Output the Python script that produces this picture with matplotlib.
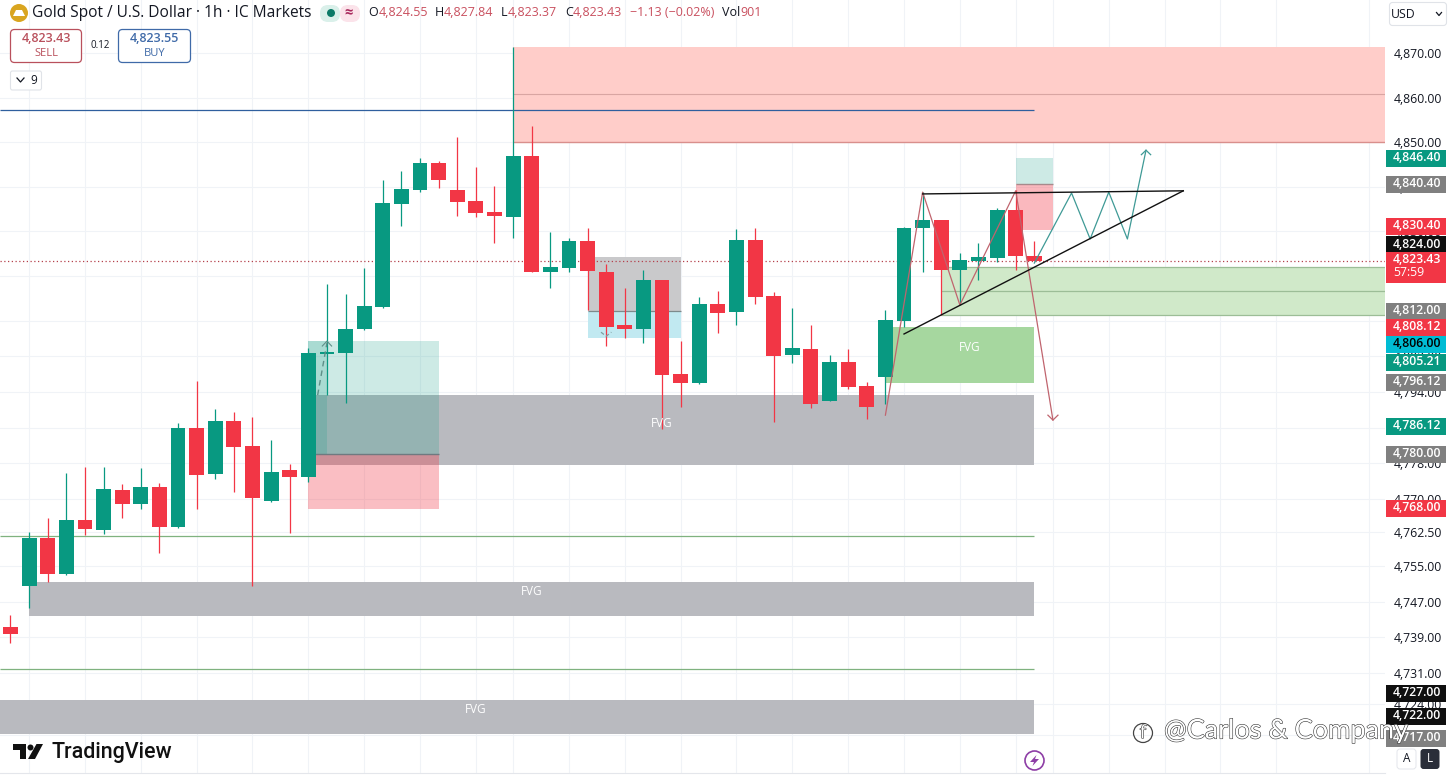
import numpy as np
import matplotlib
matplotlib.use('Agg')
import matplotlib.pyplot as plt
import matplotlib.patheffects as pe
from matplotlib.patches import Rectangle, FancyBboxPatch, Circle, Polygon

plt.rcParams['font.family'] = ['Open Sans', 'DejaVu Sans']

# candles, one hour each
opens = [4741.2, 4750.5, 4761.3, 4753.2, 4765.3, 4763.1, 4772.0, 4768.9, 4772.7, 4763.7,
         4785.9, 4775.6, 4787.5, 4781.9, 4769.6, 4776.5, 4774.9, 4802.5, 4802.7, 4808.1,
         4813.0, 4836.1, 4839.3, 4845.3, 4839.3, 4836.8, 4834.4, 4833.3, 4846.9, 4820.9,
         4821.8, 4827.9, 4820.9, 4809.0, 4808.1, 4819.1, 4798.0, 4796.0, 4813.7, 4811.9,
         4828.1, 4815.5, 4802.3, 4803.6, 4792.0, 4800.7, 4795.3, 4797.4, 4809.9, 4830.8,
         4832.6, 4821.4, 4823.4, 4824.0, 4834.8, 4824.55]
highs = [4744.0, 4762.5, 4765.8, 4775.9, 4777.2, 4777.2, 4773.4, 4777.0, 4773.5, 4787.0,
         4796.5, 4790.2, 4789.6, 4788.5, 4783.2, 4777.9, 4803.9, 4818.2, 4816.0, 4821.8,
         4841.5, 4843.5, 4846.5, 4845.8, 4851.2, 4844.4, 4840.2, 4871.3, 4853.6, 4829.9,
         4828.5, 4830.8, 4822.7, 4817.3, 4821.4, 4819.1, 4805.4, 4815.3, 4816.6, 4830.5,
         4830.8, 4816.4, 4812.8, 4809.0, 4802.3, 4803.6, 4796.2, 4812.4, 4831.0, 4838.8,
         4832.6, 4825.2, 4827.4, 4835.3, 4839.3, 4827.84]
lows = [4737.8, 4745.6, 4751.3, 4753.0, 4761.9, 4762.2, 4765.7, 4767.8, 4757.9, 4763.5,
        4767.8, 4774.5, 4771.6, 4750.5, 4769.3, 4762.4, 4773.8, 4793.3, 4791.5, 4807.9,
        4812.8, 4831.2, 4838.8, 4839.7, 4833.5, 4833.2, 4827.4, 4828.6, 4820.9, 4817.4,
        4820.9, 4812.4, 4804.3, 4806.1, 4805.0, 4785.7, 4790.6, 4795.8, 4807.2, 4809.0,
        4813.7, 4787.3, 4800.5, 4790.4, 4792.0, 4794.7, 4787.9, 4791.3, 4808.6, 4820.9,
        4811.3, 4813.5, 4819.1, 4823.1, 4821.4, 4823.37]
closes = [4739.7, 4761.3, 4753.2, 4765.3, 4763.3, 4772.2, 4768.9, 4772.7, 4763.7, 4785.9,
          4775.4, 4787.5, 4781.7, 4770.2, 4776.1, 4774.9, 4802.7, 4803.0, 4808.1, 4813.3,
          4836.4, 4839.5, 4845.3, 4841.5, 4836.6, 4834.1, 4833.5, 4846.9, 4821.0, 4822.0,
          4827.9, 4821.1, 4808.6, 4808.1, 4819.1, 4797.8, 4796.0, 4813.7, 4811.7, 4828.1,
          4815.3, 4802.1, 4803.9, 4791.3, 4800.7, 4795.1, 4790.6, 4810.1, 4830.8, 4832.6,
          4821.4, 4823.6, 4824.3, 4834.8, 4824.5, 4823.43]

last_price = 4823.43

# drawn zones: bar start, bar end, low, high
red_zone = [27, 74, 4850.0, 4871.3]
red_zone_mid = 4860.8
green_zone = [50, 74, 4811.3, 4822.0]
green_zone_mid = 4816.6
green_fvg = [47, 55, 4796.0, 4808.6]
gray_fvgs_start = [16, 1, -1]
gray_fvgs_end = [55, 55, 55]
gray_fvgs_low = [4777.6, 4743.8, 4717.3]
gray_fvgs_high = [4793.3, 4751.4, 4724.9]
gray_fvgs_label_bar = [35.0, 28.0, 25.0]
gray_fvgs_label_price = [4786.9, 4749.2, 4722.9]
long_box = [16, 23, 4767.8, 4780.1, 4805.4]
long_box_inner = [16, 17]
short_box = [31, 36, 4806.1, 4812.2, 4824.3]
small_box = [54, 56, 4830.3, 4840.6, 4846.5]

# horizontal levels
blue_level = 4857.2
green_levels = [4761.6, 4731.8]
levels_end = 55

# hand drawn lines
top_line_bars = [49, 63]
top_line_prices = [4838.4, 4839.1]
rise_line_bars = [48, 63]
rise_line_prices = [4807.0, 4839.1]
red_path_bars = [47, 49, 51, 54, 56]
red_path_prices = [4788.8, 4838.8, 4813.5, 4839.1, 4787.7]
teal_path_bars = [55, 57, 58, 59, 60, 61]
teal_path_prices = [4822.9, 4838.6, 4828.3, 4838.8, 4828.3, 4848.2]

# axes
grid_bars = [1, 4, 7, 10, 13, 16, 19, 22, 25, 27, 30, 33, 36, 39, 42, 45, 48, 51, 54, 56, 59, 62, 65, 68, 73]
price_ticks = [4870, 4860, 4850, 4840, 4830, 4820, 4810, 4802, 4794, 4786, 4778, 4770,
               4762.5, 4755, 4747, 4739, 4731, 4724, 4717]

# price tags on the axis
tag_labels = ['4,846.40', '4,840.40', '4,830.40', '4,824.00', '4,823.43', '4,812.00', '4,808.12', '4,806.00',
              '4,805.21', '4,796.12', '4,786.12', '4,780.00', '4,768.00', '4,727.00', '4,722.00', '4,717.00']
tag_colors = ['#089981', '#808080', '#f23645', '#0f0f0f', '#f23645', '#808080', '#f23645', '#00bcd4',
              '#089981', '#808080', '#089981', '#808080', '#f23645', '#0f0f0f', '#0f0f0f', '#808080']
tag_px = [158, 184, 226, 244.5, 260, 311, 327, 344, 362, 382, 426, 454, 508, 693, 716, 738]

GREEN = '#089981'
RED = '#f23645'
W, H = 1448, 777
PANE_W, PANE_H = 1385, 773
BAR0, BAR_STEP = 10.5, 18.615
PX_PRICE = 0.2242
PRICE_TOP = 4881.88


def fx(px):
    return px / W


def fy(py):
    return 1 - py / H


def box(fig, x, y, w, h, fc, ec='none', lw=1.0, r=0.0, z=5):
    """Rounded box in reference pixels, on the figure."""
    style = 'round,pad=0,rounding_size=%.1f' % r if r else 'square,pad=0'
    p = FancyBboxPatch((x, H - y - h), w, h, boxstyle=style, fc=fc, ec=ec, lw=lw,
                       transform=pixel, zorder=z, clip_on=False)
    fig.add_artist(p)


def zone(ax, start, end, low, high, color, alpha=1.0, z=1):
    ax.add_patch(Rectangle((start, low), end - start, high - low, fc=color, alpha=alpha, ec='none', zorder=z))


fig = plt.figure(figsize=(W / 100, H / 100), dpi=100, facecolor='white')
pixel = matplotlib.transforms.Affine2D().scale(fig.dpi * fig.get_figwidth() / W, fig.dpi * fig.get_figheight() / H)
ax = fig.add_axes([0, 1 - PANE_H / H, PANE_W / W, PANE_H / H])
ax.set_xlim(-BAR0 / BAR_STEP, (PANE_W - BAR0) / BAR_STEP)
ax.set_ylim(PRICE_TOP - PANE_H * PX_PRICE, PRICE_TOP)

# grid and axis
ax.set_axisbelow(True)
ax.set_xticks(grid_bars)
ax.set_yticks(price_ticks)
ax.grid(True, color='#f0f3f7', lw=0.8)
ax.yaxis.tick_right()
ax.set_yticklabels(['{:,.2f}'.format(p) for p in price_ticks])
ax.tick_params(axis='y', length=0, pad=6, labelsize=8.8, labelcolor='#131722')
ax.tick_params(axis='x', length=0, labelbottom=False)
for name in ['left', 'top', 'right']:
    ax.spines[name].set_visible(False)
ax.spines['bottom'].set_color('#e4e6eb')

# zones
zone(ax, *red_zone[:4], '#ffcdc9')
ax.hlines([red_zone[2]], red_zone[0], red_zone[1], color='#d98f8c', lw=1, zorder=1.2)
ax.hlines([red_zone_mid], red_zone[0], red_zone[1], color='#d9a5a2', lw=0.8, zorder=1.2)
zone(ax, *green_zone[:4], '#d0e9c9')
ax.hlines(green_zone[2:] + [green_zone_mid], green_zone[0], green_zone[1], color='#9cbd97', lw=0.9, zorder=1.2)
zone(ax, *green_fvg[:4], '#a6d79f')
ax.text((green_fvg[0] + green_fvg[1]) / 2 + 0.55, 4804.0, 'FVG', color='white', fontsize=8.5, ha='center', va='center', zorder=6)
for i in range(len(gray_fvgs_start)):
    zone(ax, gray_fvgs_start[i], gray_fvgs_end[i], gray_fvgs_low[i], gray_fvgs_high[i], '#b9babf')
    ax.text(gray_fvgs_label_bar[i], gray_fvgs_label_price[i], 'FVG', color='white', fontsize=8.5,
            ha='center', va='center', zorder=6)

# long position box
zone(ax, long_box[0], long_box[1], long_box[3], long_box[4], GREEN, alpha=0.2, z=1.5)
zone(ax, long_box[0], long_box[1], long_box[2], long_box[3], RED, alpha=0.32, z=1.5)
zone(ax, long_box_inner[0], long_box_inner[1], long_box[3], long_box[4], GREEN, alpha=0.18, z=1.6)
ax.hlines([long_box[3]], long_box[0], long_box[1], color='#6f7a80', lw=1, zorder=1.7)
ax.plot([16.5, 17], [4793.3, 4805.0], color='#5f8f88', lw=1, ls=(0, (4, 3)), zorder=4)
ax.plot([16.75, 17, 17.25], [4804.3, 4805.4, 4804.3], color='#5f8f88', lw=0.8, zorder=4)

# short position box
zone(ax, short_box[0], short_box[1], short_box[3], short_box[4], '#c9c9cb', z=1.5)
zone(ax, short_box[0], short_box[1], short_box[2], short_box[3], '#c1e9f1', z=1.5)
ax.hlines([short_box[3]], short_box[0], short_box[1], color='#7d8a8c', lw=0.9, zorder=1.7)
ax.plot([31.72, 32, 32.28], [4807.4, 4806.5, 4807.4], color='#7f9ea0', lw=0.9, ls=(0, (3, 2)), zorder=4)

# small position box
zone(ax, small_box[0], small_box[1], small_box[3], small_box[4], GREEN, alpha=0.2, z=1.5)
zone(ax, small_box[0], small_box[1], small_box[2], small_box[3], RED, alpha=0.35, z=1.5)
ax.hlines([small_box[3]], small_box[0], small_box[1], color='#a78a8c', lw=1, zorder=1.7)

# levels
ax.hlines([blue_level], ax.get_xlim()[0], levels_end, color='#2f5f9e', lw=0.9, zorder=2)
ax.hlines(green_levels, ax.get_xlim()[0], levels_end, color='#7fb27f', lw=0.9, zorder=2)
ax.axhline(last_price, color='#b5414c', lw=0.9, ls=(0, (1, 2)), zorder=2)

# candles
bars = np.arange(len(opens))
opens_a, closes_a = np.array(opens), np.array(closes)
colors = [GREEN if c >= o else RED for o, c in zip(opens, closes)]
ax.vlines(bars, lows, highs, colors=colors, lw=0.9, zorder=3)
ax.bar(bars, np.abs(closes_a - opens_a), bottom=np.minimum(opens_a, closes_a), width=0.8, color=colors, zorder=3.2)

# hand drawn lines
ax.plot(top_line_bars, top_line_prices, color='#111111', lw=1.0, zorder=4.5)
ax.plot(rise_line_bars, rise_line_prices, color='#111111', lw=1.0, zorder=4.5)
ax.plot(red_path_bars, red_path_prices, color='#c0646e', lw=0.9, zorder=4.2)
ax.plot(teal_path_bars, teal_path_prices, color='#3f9a96', lw=0.9, zorder=4.2)
ax.plot([55.73, 56, 56.27], [4788.8, 4787.7, 4788.8], color='#c0646e', lw=0.9, zorder=4.2)
ax.plot([60.75, 61, 61.25], [4847.2, 4848.2, 4847.2], color='#3f9a96', lw=0.9, zorder=4.2)

# price tags
for i in range(len(tag_labels)):
    two_rows = tag_labels[i] == '4,823.43'
    h = 31 if two_rows else 17
    top = 252 if two_rows else tag_px[i] - 8.5
    box(fig, 1386, top, 60, h, tag_colors[i], z=8)
    fig.text(fx(1393), fy(tag_px[i] - 0.5), tag_labels[i], color='black' if tag_colors[i] == '#00bcd4' else 'white',
             fontsize=8.8, va='center', ha='left', zorder=9, fontweight='semibold')
fig.text(fx(1393), fy(273), '57:59', color='white', fontsize=8.8, va='center', ha='left', zorder=9)

# header
fig.add_artist(Circle((19, H - 13), 9, fc='#d9a520', ec='none', transform=pixel, zorder=6))
fig.add_artist(Polygon([[13, H - 16], [25, H - 16], [22, H - 10], [16, H - 10]], fc='white', ec='none', transform=pixel, zorder=7))
fig.text(fx(32), fy(13), 'Gold Spot / U.S. Dollar · 1h · IC Markets', fontsize=11.2, color='#131722', va='center', zorder=7)
box(fig, 320, 5, 20, 17, '#daf0ea', r=8, z=6)
box(fig, 340, 5, 20, 17, '#fbe3ea', r=8, z=6)
fig.add_artist(Circle((331, H - 13), 4, fc='#0b7a67', ec='none', transform=pixel, zorder=7))
fig.text(fx(349), fy(13), '≈', fontsize=10.5, color='#a8285c', va='center', ha='center', zorder=7, fontweight='bold')

ohlc_parts = [('O', 368), ('4,824.55', 379), ('H', 435), ('4,827.84', 444), ('L', 501), ('4,823.37', 508),
              ('C', 565), ('4,823.43', 573), ('−1.13 (−0.02%)', 630), ('Vol', 722), ('901', 740)]
for text, px in ohlc_parts:
    dark = text in ('O', 'H', 'L', 'C', 'Vol')
    fig.text(fx(px), fy(13), text, fontsize=9, color='#131722' if dark else '#c9505f', va='center', zorder=7)

# sell and buy
box(fig, 10.5, 29.5, 71, 33, 'white', ec='#b9505c', lw=0.9, r=4, z=6)
box(fig, 118.5, 29.5, 72, 33, 'white', ec='#3f6aa8', lw=0.9, r=4, z=6)
fig.text(fx(46), fy(39), '4,823.43', fontsize=9, color='#b9505c', ha='center', va='center', fontweight='semibold', zorder=7)
fig.text(fx(46), fy(53), 'SELL', fontsize=8, color='#b9505c', ha='center', va='center', zorder=7)
fig.text(fx(154.5), fy(39), '4,823.55', fontsize=9, color='#3f6aa8', ha='center', va='center', fontweight='semibold', zorder=7)
fig.text(fx(154.5), fy(53), 'BUY', fontsize=8, color='#3f6aa8', ha='center', va='center', zorder=7)
fig.text(fx(100), fy(45), '0.12', fontsize=7, color='#131722', ha='center', va='center', zorder=7)
box(fig, 10.5, 71, 31, 19, 'white', ec='#e0e3e8', lw=0.8, r=2, z=6)
fig.add_artist(plt.Line2D([17, 20.5, 24], [H - 78, H - 82, H - 78], color='#131722', lw=0.9, transform=pixel, zorder=7))
fig.text(fx(33.5), fy(80.5), '9', fontsize=8.5, color='#131722', ha='center', va='center', zorder=7)

# currency button and scale mode buttons
box(fig, 1389.5, 2.5, 57, 23, 'white', ec='#e0e3e8', lw=0.8, r=3, z=6)
fig.text(fx(1403.5), fy(14), 'USD', fontsize=8.8, color='#131722', ha='center', va='center', zorder=7)
fig.add_artist(plt.Line2D([1436.5, 1439, 1441.5], [H - 12.5, H - 15.5, H - 12.5], color='#131722', lw=0.9, transform=pixel, zorder=7))
box(fig, 1397, 749, 19, 20, 'white', ec='#e4e6eb', lw=0.7, r=3, z=10)
fig.text(fx(1406.5), fy(759), 'A', fontsize=8.5, color='#131722', ha='center', va='center', zorder=11)
box(fig, 1420.5, 749, 19, 20, '#2a2e39', r=3, z=10)
fig.text(fx(1430), fy(759), 'L', fontsize=8.5, color='white', ha='center', va='center', zorder=11)

# lightning badge
fig.add_artist(Circle((1034.5, H - 760.5), 9.5, fc='white', ec='#8e3ea6', lw=1.2, transform=pixel, zorder=7))
fig.add_artist(Polygon([[1036.5, H - 755], [1030, H - 762], [1034, H - 762], [1032.5, H - 766], [1039, H - 759], [1035, H - 759]],
                       fc='#8e3ea6', ec='none', transform=pixel, zorder=8))

# logo
fig.add_artist(Polygon([[13, H - 744], [26, H - 744], [26, H - 759], [19.5, H - 759], [19.5, H - 749.5], [13, H - 749.5]],
                       fc='#111111', ec='none', transform=pixel, zorder=7))
fig.add_artist(Circle((30.5, H - 747.5), 3, fc='#111111', ec='none', transform=pixel, zorder=7))
fig.add_artist(Polygon([[36.5, H - 744], [43, H - 744], [35, H - 759], [28, H - 759]], fc='#111111', ec='none', transform=pixel, zorder=7))
fig.text(fx(51), fy(752.5), 'TradingView', fontsize=15.5, color='#111111', va='center', fontweight='medium', family=['Roboto', 'DejaVu Sans'], zorder=7)

# watermark
shadow = [pe.withStroke(linewidth=0.8, foreground='#333333')]
fig.text(fx(1164), fy(731), '@Carlos & Company', fontsize=19.5, color='white', va='center', zorder=12, path_effects=shadow,
         family=['Lato', 'DejaVu Sans'])
fig.add_artist(Circle((1143, H - 733), 9.5, fc='none', ec='#444444', lw=0.9, transform=pixel, zorder=12))
fig.text(fx(1143), fy(733), 'f', fontsize=13, color='white', ha='center', va='center', zorder=13, path_effects=shadow)

fig.savefig('out.png', dpi=100, facecolor='white')
